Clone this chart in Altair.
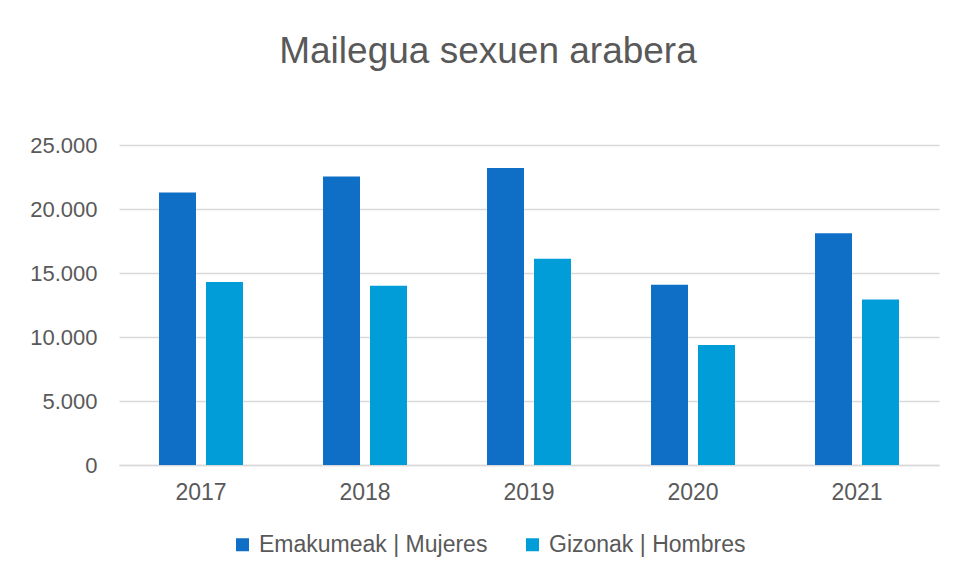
import altair as alt
import pandas as pd

years = ["2017", "2018", "2019", "2020", "2021"]
women = [21280, 22530, 23200, 14090, 18100]
men = [14300, 14010, 16120, 9380, 12920]
series_names = ["Emakumeak | Mujeres", "Gizonak | Hombres"]
colors = ["#0F6FC6", "#009DD9"]
y_ticks = [0, 5000, 10000, 15000, 20000, 25000]

rows = []
for i, yr in enumerate(years):
    rows.append({"year": yr, "series": series_names[0], "value": women[i]})
    rows.append({"year": yr, "series": series_names[1], "value": men[i]})
df = pd.DataFrame(rows)

FONT = "Liberation Sans"
GRAY = "#595959"

chart = alt.Chart(df).mark_bar().encode(
    x=alt.X("year:N", sort=years,
            scale=alt.Scale(paddingInner=0.488, paddingOuter=0.244),
            axis=alt.Axis(title=None, labelAngle=0, ticks=False, domainColor="#d9d9d9",
                          domainWidth=1.3, labelFontSize=23, labelColor=GRAY,
                          labelFont=FONT, labelPadding=16)),
    xOffset=alt.XOffset("series:N", sort=series_names,
                        scale=alt.Scale(paddingInner=0.213, paddingOuter=0)),
    y=alt.Y("value:Q", scale=alt.Scale(domain=[0, 25000], nice=False),
            axis=alt.Axis(title=None, values=y_ticks, ticks=False, domain=False,
                          grid=True, gridColor="#d9d9d9", gridWidth=1.3,
                          labelFontSize=22, labelColor=GRAY, labelFont=FONT,
                          labelPadding=22,
                          labelExpr="replace(format(datum.value, ','), ',', '.')")),
    color=alt.Color("series:N", sort=series_names,
                    scale=alt.Scale(domain=series_names, range=colors),
                    legend=alt.Legend(title=None, orient="none", legendX=112, legendY=388,
                                      direction="horizontal", symbolType="square",
                                      symbolSize=169, symbolStrokeWidth=0,
                                      labelFontSize=23, labelColor=GRAY, labelFont=FONT,
                                      labelOffset=5, columnPadding=33, labelLimit=0)),
).properties(
    width=820,
    height=320,
    title=alt.TitleParams("Mailegua sexuen arabera", fontSize=37, color=GRAY, font=FONT,
                          fontWeight="normal", anchor="middle", dx=-41, offset=63),
    autosize=alt.AutoSizeParams(type="none"),
    padding={"left": 111, "top": 137, "right": 11, "bottom": 100},
).configure_view(stroke=None)

chart.save("out.html", embed_options={"renderer": "svg", "actions": False})
